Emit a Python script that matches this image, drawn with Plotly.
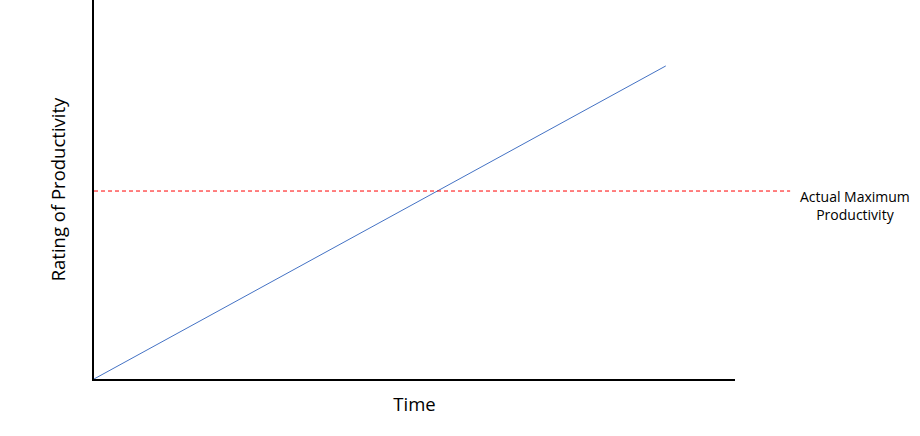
import plotly.graph_objects as go

# data
time = [0, 89.2]
productivity = [0, 82.6]
actual_max = 49.6
label_text = "Actual Maximum<br>Productivity"

fig = go.Figure()

fig.add_trace(
    go.Scatter(
        x=time,
        y=productivity,
        mode="lines",
        line=dict(color="#4472C4", width=1),
        showlegend=False,
        hoverinfo="skip",
    )
)

# horizontal dashed reference line, runs past the x axis end
fig.add_shape(
    type="line",
    xref="paper",
    yref="y",
    x0=0,
    x1=1.086,
    y0=actual_max,
    y1=actual_max,
    line=dict(color="#FF0000", width=1, dash="4px,3px"),
)

fig.add_annotation(
    text=label_text,
    xref="paper",
    yref="y",
    x=1.187,
    y=actual_max - 3.9,
    xanchor="center",
    yanchor="middle",
    showarrow=False,
    font=dict(size=14, color="#000000"),
    align="center",
)

fig.update_layout(
    width=920,
    height=436,
    margin=dict(l=94, r=185, t=0, b=57),
    paper_bgcolor="white",
    plot_bgcolor="white",
    font=dict(family="Open Sans, Liberation Sans, sans-serif", color="#000000"),
)

fig.update_xaxes(
    range=[0, 100],
    showgrid=False,
    zeroline=False,
    showticklabels=False,
    ticks="",
    showline=True,
    linecolor="black",
    linewidth=1.5,
    automargin=False,
    title=dict(text="Time", font=dict(size=18.5), standoff=18),
)
fig.update_yaxes(
    range=[0, 100],
    showgrid=False,
    zeroline=False,
    showticklabels=False,
    ticks="",
    showline=True,
    linecolor="black",
    linewidth=1.5,
    automargin=False,
    title=dict(text="Rating of Productivity", font=dict(size=18.5), standoff=22),
)

# drop the default page margin so the figure sits at the window corner
fig.write_html(
    "out.html",
    config={"displayModeBar": False},
    post_script="document.body.style.margin='0';",
)
